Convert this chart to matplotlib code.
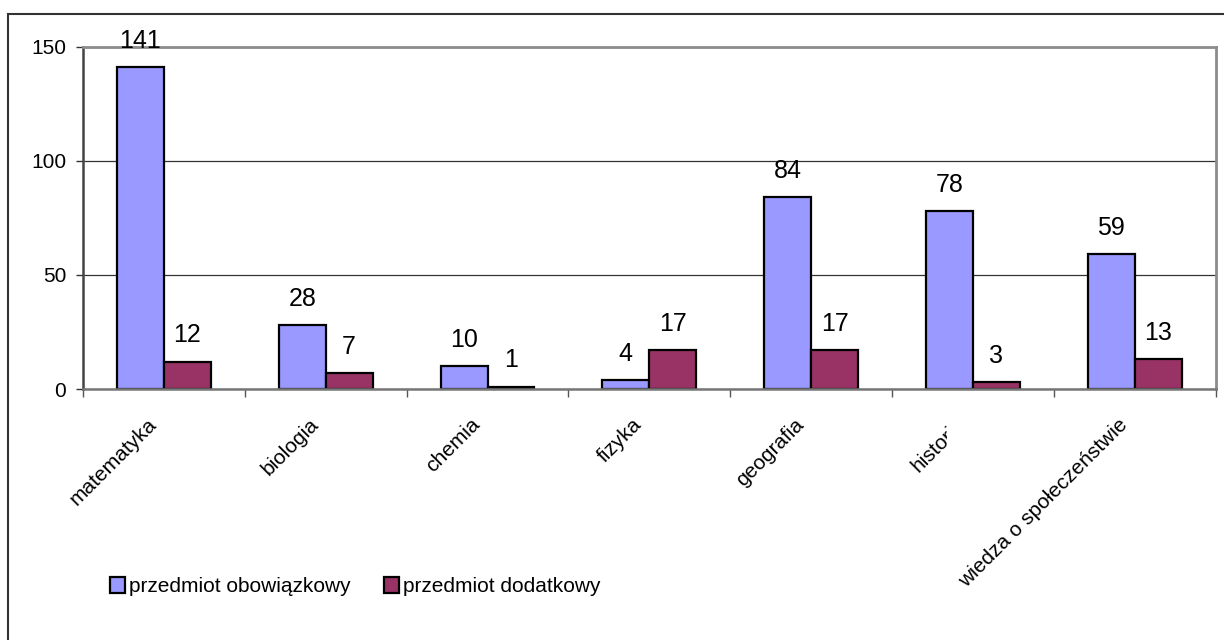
import matplotlib
matplotlib.use('Agg')
import matplotlib.pyplot as plt
import numpy as np
from matplotlib.patches import Rectangle
from matplotlib.lines import Line2D

plt.rcParams['font.family'] = ['Liberation Sans', 'DejaVu Sans']

# data
przedmioty = ['matematyka', 'biologia', 'chemia', 'fizyka', 'geografia',
              'historia', 'wiedza o społeczeństwie']
obowiazkowy = [141, 28, 10, 4, 84, 78, 59]
dodatkowy = [12, 7, 1, 17, 17, 3, 13]
yticks = [0, 50, 100, 150]

fig = plt.figure(figsize=(12.24, 6.4), dpi=100)
ax = fig.add_axes([0.0678, 0.392, 0.9254, 0.535])

x = np.arange(len(przedmioty))
w = 0.29
b1 = ax.bar(x - w/2, obowiazkowy, w, color='#9999FF', edgecolor='black',
            linewidth=1.6, label='przedmiot obowiązkowy')
b2 = ax.bar(x + w/2, dodatkowy, w, color='#993366', edgecolor='black',
            linewidth=1.6, label='przedmiot dodatkowy')

for bars, vals in ((b1, obowiazkowy), (b2, dodatkowy)):
    for r, v in zip(bars, vals):
        ax.annotate(str(v), xy=(r.get_x() + r.get_width()/2, v),
                    xytext=(0, 14), textcoords='offset points',
                    ha='center', va='baseline', fontsize=18)

ax.set_xlim(-0.5, len(przedmioty) - 0.5)
ax.set_ylim(0, 150)
ax.set_yticks(yticks)
ax.tick_params(axis='y', labelsize=15, length=5, width=1, color='#333333', pad=7)
ax.yaxis.grid(True, color='#333333', linewidth=0.9)
ax.set_axisbelow(True)

# ticks at the category boundaries, labels drawn separately
ax.set_xticks(np.arange(len(przedmioty) + 1) - 0.5)
ax.set_xticklabels([])
ax.tick_params(axis='x', length=6, width=1, color='#555555')

labs = []
for xi, name in zip(x, przedmioty):
    t = ax.annotate(name, xy=(xi, 0), xycoords=('data', 'axes fraction'),
                    xytext=(-17, -26), textcoords='offset pixels',
                    rotation=45, ha='right', va='top',
                    rotation_mode='anchor', fontsize=15,
                    annotation_clip=False)
    labs.append(t)
# the "historia" label is cut off in the original
clip = Rectangle((0, 0), 947/1224, 1, transform=fig.transFigure)
labs[5].set_clip_path(clip)

for s in ('top', 'right'):
    ax.spines[s].set_color('#8c8c8c')
    ax.spines[s].set_linewidth(2)
ax.spines['left'].set_color('#444444')
ax.spines['left'].set_linewidth(1.8)
ax.spines['bottom'].set_color('#777777')
ax.spines['bottom'].set_linewidth(1.8)

leg = fig.legend(handles=[b1, b2], loc='center left',
                 bbox_to_anchor=(110/1224, 0.084), ncol=2, frameon=False,
                 fontsize=15, handlelength=0.72, handleheight=0.8,
                 handletextpad=0.2, columnspacing=1.6, borderpad=0,
                 borderaxespad=0)

# outer chart frame (only top and left visible)
fig.add_artist(Line2D([8/1224, 1], [1 - 14/640, 1 - 14/640],
                      transform=fig.transFigure, color='#333333', lw=1.5))
fig.add_artist(Line2D([8/1224, 8/1224], [0, 1 - 14/640],
                      transform=fig.transFigure, color='#333333', lw=1.5))

fig.savefig('out.png', dpi=100)
